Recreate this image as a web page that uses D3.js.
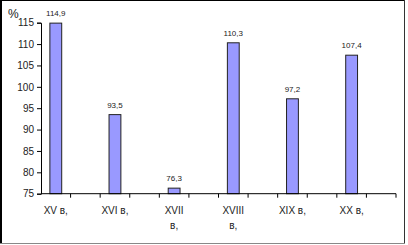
<!DOCTYPE html>
<html><head><meta charset="utf-8">
<script src="https://cdn.jsdelivr.net/npm/d3@7"></script>
<style>body{margin:0;background:#fff}svg{display:block}text{font-family:"Liberation Sans",Arial,sans-serif}</style>
</head><body><svg id="c" width="408" height="245"></svg>
<script>
const categories = ["XV в,", "XVI в,", "XVII\nв,", "XVIII\nв,", "XIX в,", "XX в,"];
const values = [114.9, 93.5, 76.3, 110.3, 97.2, 107.4];
const valueLabels = ["114,9", "93,5", "76,3", "110,3", "97,2", "107,4"];
const yTicks = [75, 80, 85, 90, 95, 100, 105, 110, 115];
const unitLabel = "%";

(function(){
const svg = d3.select("#c");
const mLeft = 41, mRight = 396, mTop = 22.7, mBottom = 193.7;

// frame
svg.append("line").attr("x1",0).attr("x2",405).attr("y1",0.5).attr("y2",0.5).attr("stroke","#000");
svg.append("line").attr("x1",1).attr("x2",1).attr("y1",0).attr("y2",244).attr("stroke","#000").attr("stroke-width",2);
svg.append("line").attr("x1",404.5).attr("x2",404.5).attr("y1",0).attr("y2",244).attr("stroke","#333");
svg.append("line").attr("x1",0).attr("x2",405).attr("y1",243.5).attr("y2",243.5).attr("stroke","#888");

const slots = d3.range(categories.length * 2);
const x = d3.scaleBand().domain(slots).range([mLeft, mRight]);
const y = d3.scaleLinear().domain([75, 115]).range([mBottom, mTop]);
const barW = x.bandwidth() * 0.4;

// bars
svg.selectAll("rect.bar").data(values).join("rect")
  .attr("class","bar")
  .attr("x",(d,i)=>x(i*2)+x.bandwidth()/2-barW/2)
  .attr("y",d=>y(d))
  .attr("width",barW)
  .attr("height",d=>y(75)-y(d))
  .attr("fill","#9999ff").attr("stroke","#222").attr("stroke-width",1);

// value labels
svg.selectAll("text.val").data(values).join("text")
  .attr("class","val")
  .attr("x",(d,i)=>x(i*2)+x.bandwidth()/2)
  .attr("y",d=>y(d)-7)
  .attr("text-anchor","middle").attr("font-size",8).attr("fill","#222")
  .text((d,i)=>valueLabels[i]);

// y axis
const yAxis = d3.axisLeft(y).tickValues(yTicks).tickSize(4).tickPadding(3).tickFormat(d3.format("d"));
const gy = svg.append("g").attr("transform",`translate(${mLeft},0)`).call(yAxis);
gy.select(".domain").attr("stroke","#000");
gy.selectAll(".tick line").attr("stroke","#000");
gy.selectAll(".tick text").attr("font-size",10).attr("fill","#222").attr("font-family",'"Liberation Sans",Arial,sans-serif');

// x axis
svg.append("line").attr("x1",mLeft).attr("x2",mRight).attr("y1",mBottom).attr("y2",mBottom).attr("stroke","#000");
const boundaries = slots.map(s=>x(s)).concat([mRight]);
svg.selectAll("line.xt").data(boundaries.slice(1)).join("line")
  .attr("class","xt").attr("x1",d=>d).attr("x2",d=>d)
  .attr("y1",mBottom).attr("y2",mBottom+4).attr("stroke","#000");

// category labels
const cl = svg.selectAll("text.cat").data(categories).join("text")
  .attr("class","cat")
  .attr("x",(d,i)=>x(i*2)+x.bandwidth()/2)
  .attr("y",mBottom+20)
  .attr("text-anchor","middle").attr("font-size",10).attr("fill","#222");
cl.each(function(d,i){
  const t = d3.select(this);
  d.split("\n").forEach((ln,k)=>{
    t.append("tspan").attr("x",x(i*2)+x.bandwidth()/2).attr("dy",k===0?0:15).text(ln);
  });
});

// unit label
svg.append("text").attr("x",8).attr("y",18).attr("font-size",12).attr("fill","#222").text(unitLabel);
})();
</script></body></html>
